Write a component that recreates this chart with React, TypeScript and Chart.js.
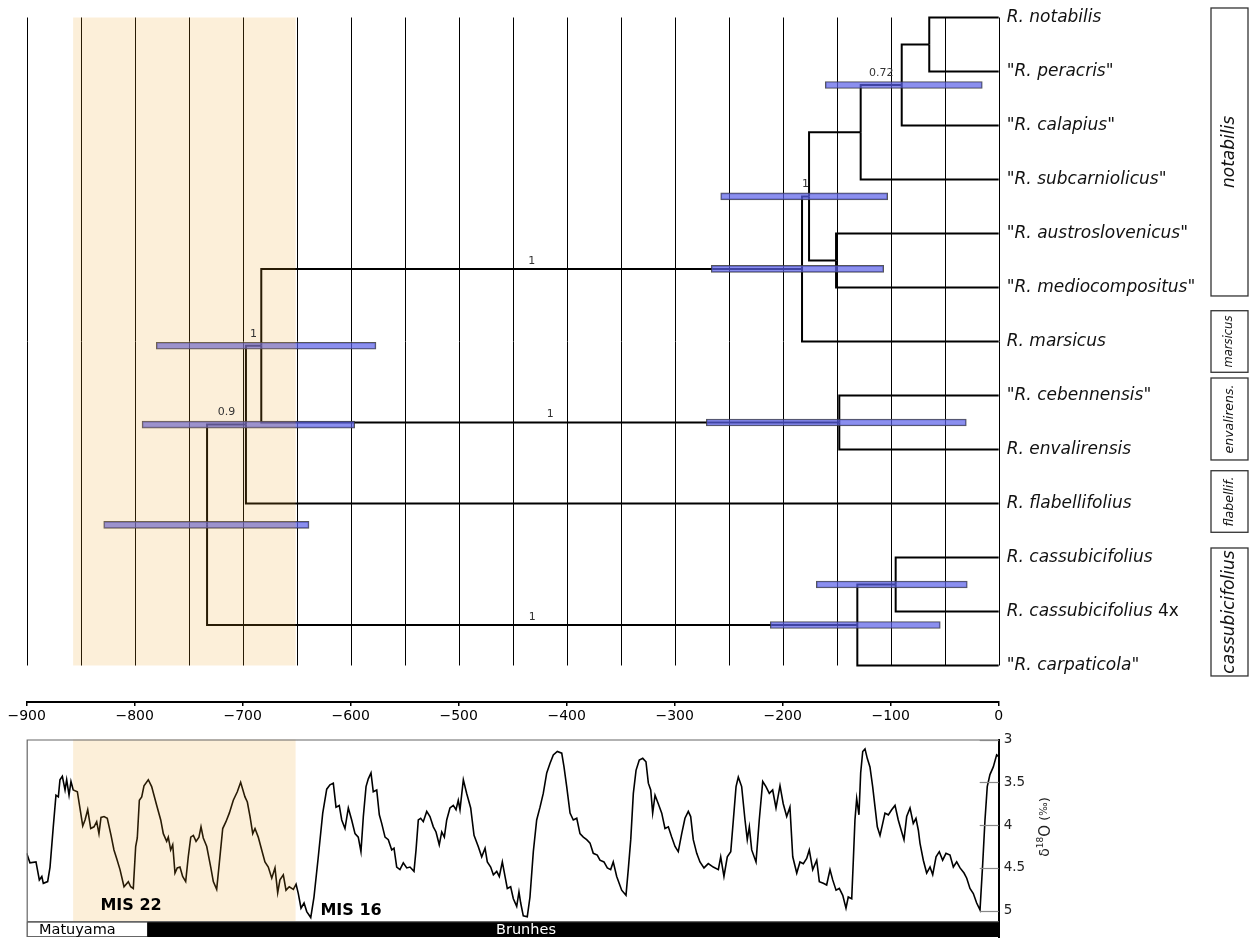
import React, { useEffect, useRef } from "react";
import { Chart, registerables } from "chart.js";

Chart.register(...registerables);

const W = 1253;
const TOP_H = 735;
const BOT_TOP = 720;
const BOT_H = 939 - BOT_TOP;
const FONT = "'DejaVu Sans', Verdana, sans-serif";
Chart.defaults.font.family = FONT;

// ---------------- tree data ----------------
const tipNames = [
  "R. notabilis",
  '"R. peracris"',
  '"R. calapius"',
  '"R. subcarniolicus"',
  '"R. austroslovenicus"',
  '"R. mediocompositus"',
  "R. marsicus",
  '"R. cebennensis"',
  "R. envalirensis",
  "R. flabellifolius",
  "R. cassubicifolius",
  "R. cassubicifolius",
  '"R. carpaticola"',
];
const tipSuffix = ["", "", "", "", "", "", "", "", "", "", "", "4x", ""];
const tipAges = [0, 0, 0, 0, 0, 0, 0, 0, 0, 0, 0, 0, 0];

// internal nodes (ids 13..24), ages in ka
const nodeAges = [-64.3, -89.8, -127.8, -150.6, -175.6, -182.1, -147.6, -682.8, -697.0, -95.4, -130.9, -733.0];
const nodeChildren = [
  [0, 1],
  [13, 2],
  [14, 3],
  [4, 5],
  [15, 16],
  [17, 6],
  [7, 8],
  [18, 19],
  [20, 9],
  [10, 11],
  [22, 12],
  [21, 23],
];

// 95% HPD intervals
const hpdNodes = [14, 17, 18, 19, 20, 21, 22, 23, 24];
const hpdLow = [-160.6, -257.4, -266.1, -270.7, -780.0, -793.2, -168.9, -211.5, -828.7];
const hpdHigh = [-15.2, -102.8, -106.5, -30.0, -576.6, -596.3, -29.1, -54.1, -638.6];

// posterior support on branches
const supportNodes = [14, 17, 18, 19, 20, 21, 23];
const supportValues = ["0.72", "1", "1", "1", "1", "0.9", "1"];

// clade boxes
const cladeNames = ["notabilis", "marsicus", "envalirens.", "flabellif.", "cassubicifolius"];
const cladeTop = [-0.176, 5.43, 6.676, 8.393, 9.824];
const cladeBottom = [5.157, 6.57, 8.194, 9.533, 12.194];
const cladeFont = [17, 11.5, 12.5, 12.5, 17];

const xTicks = [-900, -800, -700, -600, -500, -400, -300, -200, -100, 0];
const gridValues = [-900, -850, -800, -750, -700, -650, -600, -550, -500, -450, -400, -350, -300, -250, -200, -150, -100, -50, 0];
const shadeRange = [-857, -651];

// ---------------- δ18O data ----------------
const isoAges = [
  -900, -897, -891.4, -888.3, -886, -884.6, -880.6, -878.4, -875.4, -872.9,
  -870.7, -869.2, -867, -864.5, -863, -860.8, -859, -856.9, -853.1, -848.1,
  -846, -843.5, -840.7, -837.7, -835.2, -833.1, -831.2, -828.4, -825.4, -821.9,
  -819.2, -816.7, -813.6, -809.9, -805.9, -803.7, -801.3, -799.1, -797.6, -795.7,
  -793.5, -791.4, -787.4, -784.3, -779.6, -775.9, -773.5, -770.4, -768.9, -766.7,
  -764.8, -762.7, -760.6, -758.1, -755.6, -752.8, -750.4, -748.1, -745.7, -743.2,
  -740.5, -738.6, -736.5, -733.3, -729.6, -727.2, -724.1, -721.7, -718.5, -715.5,
  -712.4, -708.7, -705, -701.9, -697.9, -695.7, -693.2, -690.7, -688.6, -685.6,
  -682.4, -679.4, -676.3, -673.1, -670.1, -667.6, -665.5, -662.4, -659.9, -656.9,
  -653.1, -650.6, -648.5, -646, -643.2, -640.7, -637, -634, -630, -625.9,
  -622.2, -619.2, -616.1, -613.6, -610.6, -608.3, -605.3, -602.2, -599.1, -596,
  -593, -590.5, -588.3, -585.8, -583.7, -581.2, -579.1, -575.9, -573.5, -571.3,
  -568.2, -565.2, -562, -559.9, -557.4, -554.4,
  -551.3, -548.1, -545.1, -541.4, -539.5, -537.4, -535.2, -532.8, -529.6, -526.6,
  -523.5, -521, -518, -515.7, -513.3, -511.1, -508.1, -505, -502.5, -500.4,
  -498.8, -495.7, -492.6, -488.9, -485.8, -481.9, -478.7, -475.6, -473.5, -470.4,
  -467.9, -464.8, -462.4, -459.6, -457.1, -455, -451.9, -449.4, -446.3, -444.2,
  -442.6, -440.2, -436.5, -434, -430.9, -427.8, -424.7, -421.7, -418.5, -415.5,
  -412.4, -408.7, -404.6, -402.5, -400, -396.9, -393.9, -390.7, -387.7, -384.6,
  -381.5, -378.4, -375.4, -371.7, -369.2, -365.5, -362.4, -359.3, -356.9, -353.7,
  -349.1, -345.1, -343, -340.7, -338.3, -335.8, -332.8, -329.6, -326.6, -324.4,
  -322.2, -320.4, -318.2, -315.2, -312, -309, -305.9, -302.8, -299.7, -296.7,
  -293.5, -290.5, -287.4, -285.2, -282.8, -279.6, -276.6, -272.9, -268.9, -264.3,
  -259.6, -257.4, -254.4, -251.3, -248.1, -245.7, -243.2, -241.1, -238, -234.9,
  -232.8, -230.9, -228.7, -224.7, -221.7, -218.5, -215.5, -212.4, -209.3, -206.2,
  -202.5, -199.5, -196.3, -193.3, -190.7, -187, -184,
  -180.9, -177.8, -175.4, -172.2, -168.5, -166.1, -162.4, -159.3, -156.2, -153.7,
  -150.6, -147.6, -144.4, -141.4, -139.3, -136.1, -134.6, -133.1, -131.5, -129.4,
  -127.8, -125.9, -123.8, -121.7, -119.2, -116.7, -114.5, -112.4, -109.9, -107.4,
  -105.3, -102.2, -99.1, -96, -93, -89.8, -87.7, -85.2, -82.1, -79.1,
  -76.6, -74.4, -72.9, -69.8, -66.7, -63.6, -61.1, -58, -55, -51.9,
  -48.8, -45.1, -42, -38.9, -35.8, -32.1, -29.6, -26.6, -23.5, -20.4,
  -17.3, -14.8, -12.7, -10.6, -8.1, -5, -1.9, 0,
];
const isoValues = [
  4.33, 4.44, 4.43, 4.64, 4.60, 4.68, 4.66, 4.49, 4.02, 3.65,
  3.67, 3.47, 3.43, 3.59, 3.47, 3.65, 3.49, 3.59, 3.61, 4.01,
  3.94, 3.82, 4.04, 4.02, 3.96, 4.10, 3.91, 3.90, 3.92, 4.12,
  4.29, 4.39, 4.52, 4.72, 4.66, 4.72, 4.74, 4.25, 4.15, 3.71,
  3.67, 3.54, 3.47, 3.55, 3.77, 3.94, 4.10, 4.19, 4.14, 4.29,
  4.23, 4.56, 4.50, 4.49, 4.60, 4.66, 4.37, 4.14, 4.12, 4.19,
  4.14, 4.02, 4.15, 4.25, 4.49, 4.66, 4.75, 4.45, 4.04, 3.96,
  3.86, 3.71, 3.61, 3.50, 3.67, 3.73, 3.90, 4.10, 4.04, 4.14,
  4.29, 4.43, 4.49, 4.62, 4.50, 4.79, 4.64, 4.58, 4.76, 4.72,
  4.75, 4.69, 4.80, 4.97, 4.91, 5.01, 5.08, 4.84, 4.37, 3.86,
  3.58, 3.53, 3.51, 3.79, 3.77, 3.94, 4.04, 3.80, 3.94, 4.10,
  4.14, 4.31, 3.90, 3.55, 3.46, 3.39, 3.61, 3.59, 3.88, 3.98,
  4.14, 4.17, 4.29, 4.27, 4.49, 4.52,
  4.44, 4.50, 4.49, 4.54, 4.29, 3.94, 3.92, 3.96, 3.84, 3.90,
  4.02, 4.08, 4.23, 4.08, 4.14, 3.94, 3.80, 3.77, 3.82, 3.71,
  3.82, 3.47, 3.63, 3.80, 4.12, 4.25, 4.37, 4.27, 4.43, 4.49,
  4.58, 4.54, 4.60, 4.43, 4.60, 4.74, 4.72, 4.86, 4.95, 4.78,
  4.91, 5.06, 5.07, 4.84, 4.31, 3.94, 3.79, 3.63, 3.39, 3.28,
  3.18, 3.14, 3.16, 3.32, 3.55, 3.86, 3.94, 3.92, 4.10, 4.14,
  4.17, 4.21, 4.33, 4.35, 4.41, 4.43, 4.50, 4.52, 4.43, 4.60,
  4.76, 4.82, 4.52, 4.17, 3.63, 3.36, 3.24, 3.22, 3.26, 3.51,
  3.59, 3.86, 3.65, 3.75, 3.86, 4.04, 4.02, 4.14, 4.25, 4.31,
  4.10, 3.92, 3.84, 3.90, 4.17, 4.33, 4.43, 4.50, 4.45, 4.49,
  4.52, 4.37, 4.60, 4.37, 4.31, 3.94, 3.55, 3.44, 3.55, 3.94,
  4.17, 4.02, 4.29, 4.43, 3.94, 3.49, 3.55, 3.63, 3.59, 3.80,
  3.54, 3.75, 3.90, 3.79, 4.37, 4.56, 4.43,
  4.45, 4.39, 4.29, 4.52, 4.41, 4.66, 4.68, 4.70, 4.52, 4.64,
  4.76, 4.74, 4.82, 4.97, 4.84, 4.86, 4.41, 3.94, 3.69, 3.88,
  3.39, 3.14, 3.11, 3.22, 3.32, 3.55, 3.79, 4.02, 4.12, 3.98,
  3.86, 3.88, 3.82, 3.77, 3.94, 4.08, 4.17, 3.90, 3.80, 3.98,
  3.92, 4.06, 4.21, 4.41, 4.56, 4.49, 4.58, 4.37, 4.31, 4.41,
  4.33, 4.35, 4.49, 4.43, 4.50, 4.56, 4.62, 4.74, 4.80, 4.91,
  4.99, 4.45, 3.94, 3.55, 3.41, 3.32, 3.18, 3.20,
];
const isoTicks = [3, 3.5, 4, 4.5, 5];
const isoRange = [3, 5.307];
const frameBottom = 5.128;

const chronNames = ["Matuyama", "Brunhes"];
const chronStart = [-900, -788];
const chronEnd = [-788, 0];
const chronLabelAge = [-888.6, -437.7];

const misLabels = ["MIS 22", "MIS 16"];
const misAge = [-803.4, -599.7];
const misValue = [4.94, 5.0];

// ---------------- helpers ----------------
const minusFmt = (v: number) => (v < 0 ? "\u2212" + Math.abs(v) : String(v));

function buildTree() {
  const nTips = tipNames.length;
  const ages = tipAges.concat(nodeAges);
  const ys: number[] = tipNames.map((_, i) => i);
  const parent: number[] = new Array(ages.length).fill(-1);
  nodeChildren.forEach((ch, k) => {
    const id = nTips + k;
    ys[id] = (ys[ch[0]] + ys[ch[1]]) / 2;
    ch.forEach((c) => (parent[c] = id));
  });
  return { ages, ys, parent };
}

function noScalePadding(s: any) {
  s.paddingTop = 0;
  s.paddingBottom = 0;
  s.paddingLeft = 0;
  s.paddingRight = 0;
}

function topConfig(): any {
  const { ages, ys, parent } = buildTree();
  const branches: any[] = [];
  for (let i = 0; i < ages.length; i++) {
    const p = parent[i];
    if (p < 0) continue;
    branches.push({
      type: "line",
      data: [
        { x: ages[i], y: ys[i] },
        { x: ages[p], y: ys[i] },
        { x: ages[p], y: ys[p] },
      ],
      borderColor: "#000",
      borderWidth: 2,
      pointRadius: 0,
      tension: 0,
      fill: false,
      order: 2,
      borderJoinStyle: "miter",
      clip: false,
    });
  }
  const hpd = {
    type: "bar",
    indexAxis: "y",
    data: hpdNodes.map((n, i) => ({ y: ys[n], x: [hpdLow[i], hpdHigh[i]] })),
    backgroundColor: "rgba(90,95,232,0.7)",
    borderColor: "rgba(55,55,60,0.85)",
    borderWidth: 1,
    borderSkipped: false,
    barThickness: 7,
    order: 1,
  };

  const pxPerRow = 54;
  const yMin = -17.5 / pxPerRow;
  const yMax = yMin + 702 / pxPerRow;

  const plugin = {
    id: "treeDecor",
    beforeDatasetsDraw(chart: any) {
      const { ctx, scales } = chart;
      const x = scales.x, y = scales.y;
      const yTop = y.getPixelForValue(0);
      const yBot = y.getPixelForValue(tipNames.length - 1);
      ctx.save();
      ctx.strokeStyle = "#000";
      ctx.lineWidth = 1;
      for (const v of gridValues) {
        const px = Math.round(x.getPixelForValue(v)) + 0.5;
        ctx.beginPath();
        ctx.moveTo(px, yTop);
        ctx.lineTo(px, yBot);
        ctx.stroke();
      }
      ctx.restore();
    },
    afterDatasetsDraw(chart: any) {
      const { ctx, scales } = chart;
      const x = scales.x, y = scales.y;
      const yTop = y.getPixelForValue(0);
      const yBot = y.getPixelForValue(tipNames.length - 1);
      const x0 = x.getPixelForValue(shadeRange[0]);
      const x1 = x.getPixelForValue(shadeRange[1]);
      ctx.save();
      ctx.fillStyle = "rgba(240,160,30,0.17)";
      ctx.fillRect(x0, yTop, x1 - x0, yBot - yTop);
      ctx.restore();
    },
    afterDraw(chart: any) {
      const { ctx, scales, chartArea } = chart;
      const x = scales.x, y = scales.y;
      ctx.save();
      // support values
      ctx.font = `11px ${FONT}`;
      ctx.fillStyle = "#333";
      ctx.textAlign = "center";
      ctx.textBaseline = "middle";
      supportNodes.forEach((n, i) => {
        const mid = (ages[n] + ages[parent[n]]) / 2;
        const hi = hpdNodes.indexOf(n);
        const covered = hi >= 0 && mid >= hpdLow[hi] && mid <= hpdHigh[hi];
        const off = covered ? 12 : 8;
        ctx.fillText(supportValues[i], x.getPixelForValue(mid), y.getPixelForValue(ys[n]) - off);
      });
      // tip labels
      ctx.textAlign = "left";
      ctx.fillStyle = "#111";
      const lx = chartArea.right + 8;
      tipNames.forEach((name, i) => {
        const py = y.getPixelForValue(ys[i]);
        ctx.font = `italic 17px ${FONT}`;
        ctx.fillText(name, lx, py);
        if (tipSuffix[i]) {
          const w = ctx.measureText(name + " ").width;
          ctx.font = `17px ${FONT}`;
          ctx.fillText(tipSuffix[i], lx + w, py);
        }
      });
      // clade boxes
      const bx0 = 1211, bx1 = 1248;
      cladeNames.forEach((name, i) => {
        const t = y.getPixelForValue(cladeTop[i]);
        const b = y.getPixelForValue(cladeBottom[i]);
        ctx.strokeStyle = "#333";
        ctx.lineWidth = 1.3;
        ctx.strokeRect(bx0, t, bx1 - bx0, b - t);
        ctx.save();
        ctx.translate((bx0 + bx1) / 2, (t + b) / 2);
        ctx.rotate(-Math.PI / 2);
        ctx.font = `italic ${cladeFont[i]}px ${FONT}`;
        ctx.fillStyle = "#111";
        ctx.textAlign = "center";
        ctx.textBaseline = "middle";
        ctx.fillText(name, 0, 0);
        ctx.restore();
      });
      ctx.restore();
    },
  };

  return {
    type: "line",
    data: { datasets: [hpd, ...branches] },
    options: {
      animation: false,
      responsive: false,
      events: [],
      layout: { padding: { left: 26.7, right: W - 998.7, top: 0, bottom: 0 } },
      plugins: { legend: { display: false }, tooltip: { enabled: false } },
      scales: {
        x: {
          type: "linear",
          position: "bottom",
          min: -900,
          max: 0,
          offset: false,
          beginAtZero: false,
          afterBuildTicks: (s: any) => {
            s.ticks = xTicks.map((v) => ({ value: v }));
          },
          afterFit: (s: any) => {
            s.height = 33;
            noScalePadding(s);
          },
          grid: { display: true, offset: false, drawOnChartArea: false, drawTicks: true, tickLength: 4, color: "#000", lineWidth: 1.5 },
          border: { display: true, color: "#000", width: 2 },
          ticks: {
            color: "#000",
            font: { size: 14, family: FONT },
            padding: 2,
            maxRotation: 0,
            autoSkip: false,
            callback: (v: any) => minusFmt(Number(v)),
          },
        },
        y: {
          type: "linear",
          display: false,
          reverse: true,
          offset: false,
          grid: { offset: false },
          min: yMin,
          max: yMax,
        },
      },
    },
    plugins: [plugin],
  };
}

function bottomConfig(): any {
  const chronCenter = (frameBottom + isoRange[1]) / 2;
  const curve = {
    type: "line",
    data: isoAges.map((a, i) => ({ x: a, y: isoValues[i] })),
    borderColor: "#000",
    borderWidth: 1.6,
    pointRadius: 0,
    tension: 0,
    fill: false,
    order: 2,
  };
  const chron = {
    type: "bar",
    indexAxis: "y",
    data: chronStart.map((s, i) => ({ y: chronCenter, x: [s, chronEnd[i]] })),
    backgroundColor: ["#fff", "#000"],
    borderColor: ["#333", "#000"],
    borderWidth: 1,
    borderSkipped: false,
    barThickness: 15,
    order: 1,
  };
  const plugin = {
    id: "isoDecor",
    afterDatasetsDraw(chart: any) {
      const { ctx, scales, chartArea } = chart;
      const x = scales.x, y = scales.y;
      const x0 = x.getPixelForValue(shadeRange[0]);
      const x1 = x.getPixelForValue(shadeRange[1]);
      const fb = y.getPixelForValue(frameBottom);
      ctx.save();
      ctx.fillStyle = "rgba(240,160,30,0.17)";
      ctx.fillRect(x0, chartArea.top, x1 - x0, fb - chartArea.top);
      ctx.restore();
    },
    afterDraw(chart: any) {
      const { ctx, scales, chartArea } = chart;
      const x = scales.x, y = scales.y;
      const fb = y.getPixelForValue(frameBottom);
      ctx.save();
      // frame
      ctx.strokeStyle = "#666";
      ctx.lineWidth = 1.2;
      ctx.beginPath();
      ctx.moveTo(chartArea.right, chartArea.top + 0.5);
      ctx.lineTo(chartArea.left + 0.5, chartArea.top + 0.5);
      ctx.lineTo(chartArea.left + 0.5, chartArea.bottom);
      ctx.moveTo(chartArea.left, fb);
      ctx.lineTo(chartArea.right, fb);
      ctx.stroke();
      // inner ticks
      ctx.strokeStyle = "#888";
      ctx.lineWidth = 1.2;
      isoTicks.forEach((v) => {
        const py = Math.round(y.getPixelForValue(v)) + 0.5;
        ctx.beginPath();
        ctx.moveTo(chartArea.right - 19, py);
        ctx.lineTo(chartArea.right, py);
        ctx.stroke();
      });
      // MIS labels
      ctx.font = `bold 16px ${FONT}`;
      ctx.fillStyle = "#000";
      ctx.textAlign = "center";
      ctx.textBaseline = "middle";
      misLabels.forEach((m, i) => {
        ctx.fillText(m, x.getPixelForValue(misAge[i]), y.getPixelForValue(misValue[i]));
      });
      // chron labels
      const cy = y.getPixelForValue((frameBottom + isoRange[1]) / 2) + 1;
      ctx.font = `14.5px ${FONT}`;
      ctx.textAlign = "left";
      ctx.fillStyle = "#000";
      ctx.fillText(chronNames[0], x.getPixelForValue(chronLabelAge[0]), cy);
      ctx.textAlign = "center";
      ctx.fillStyle = "#fff";
      ctx.fillText(chronNames[1], x.getPixelForValue(chronLabelAge[1]), cy);
      // axis title
      ctx.save();
      ctx.translate(chartArea.right + 47, 107);
      ctx.rotate(-Math.PI / 2);
      ctx.fillStyle = "#222";
      ctx.textBaseline = "middle";
      ctx.textAlign = "left";
      const parts: [string, string, number][] = [
        ["\u03b4", `14px ${FONT}`, 0],
        ["18", `9px ${FONT}`, -5],
        ["O", `15px ${FONT}`, 0],
        [" (", `13px ${FONT}`, 0],
        ["\u2030", `10px ${FONT}`, -1],
        [")", `13px ${FONT}`, 0],
      ];
      let total = 0;
      parts.forEach(([t, f]) => {
        ctx.font = f;
        total += ctx.measureText(t).width;
      });
      let cx = -total / 2;
      parts.forEach(([t, f, dy]) => {
        ctx.font = f;
        ctx.fillText(t, cx, dy);
        cx += ctx.measureText(t).width;
      });
      ctx.restore();
      ctx.restore();
    },
  };

  return {
    type: "line",
    data: { datasets: [chron, curve] },
    options: {
      animation: false,
      responsive: false,
      events: [],
      layout: { padding: { left: 26.7, right: W - 998.7 - 60, top: 739.5 - BOT_TOP, bottom: 2 } },
      plugins: { legend: { display: false }, tooltip: { enabled: false } },
      scales: {
        x: { type: "linear", display: false, min: -900, max: 0, offset: false, beginAtZero: false },
        y: {
          type: "linear",
          position: "right",
          reverse: true,
          offset: false,
          min: isoRange[0],
          max: isoRange[1],
          afterBuildTicks: (s: any) => {
            s.ticks = isoTicks.map((v) => ({ value: v }));
          },
          afterFit: (s: any) => {
            s.width = 60;
            noScalePadding(s);
          },
          grid: { display: false, offset: false, drawTicks: false, drawOnChartArea: false },
          border: { display: true, color: "#000", width: 2 },
          ticks: {
            color: "#222",
            font: { size: 13.5, family: FONT },
            padding: 5,
            callback: (v: any) => String(v),
          },
        },
      },
    },
    plugins: [plugin],
  };
}

export default function App() {
  const topRef = useRef<HTMLCanvasElement>(null);
  const botRef = useRef<HTMLCanvasElement>(null);
  useEffect(() => {
    const c1 = new Chart(topRef.current as HTMLCanvasElement, topConfig());
    const c2 = new Chart(botRef.current as HTMLCanvasElement, bottomConfig());
    return () => {
      c1.destroy();
      c2.destroy();
    };
  }, []);
  return (
    <div style={{ position: "absolute", left: 0, top: 0, width: W, height: 939, background: "#fff", overflow: "hidden" }}>
      <canvas
        ref={topRef}
        width={W}
        height={TOP_H}
        style={{ position: "absolute", left: 0, top: 0, width: W, height: TOP_H }}
      />
      <canvas
        ref={botRef}
        width={W}
        height={BOT_H}
        style={{ position: "absolute", left: 0, top: BOT_TOP, width: W, height: BOT_H }}
      />
    </div>
  );
}
